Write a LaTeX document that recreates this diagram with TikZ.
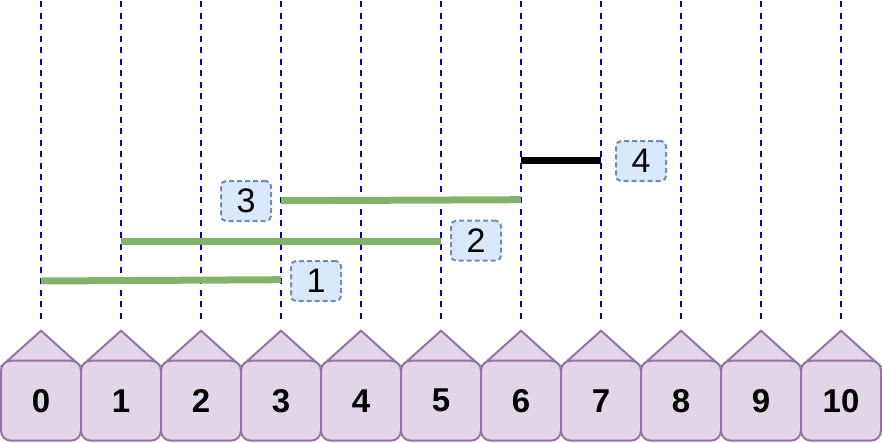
\documentclass[tikz,border=0pt]{standalone}
\usepackage{fontspec}
\setmainfont{Liberation Sans}
\definecolor{guideblue}{HTML}{0000CC}
\definecolor{seggreen}{HTML}{82B366}
\definecolor{tagfill}{HTML}{DAE8FC}
\definecolor{tagstroke}{HTML}{6C8EBF}
\definecolor{slotfill}{HTML}{E1D5E7}
\definecolor{slotstroke}{HTML}{9673A6}
\begin{document}
\begin{tikzpicture}[x=1pt,y=-1pt,
  guide/.style={draw=guideblue, line width=2pt, dash pattern=on 6pt off 5.55pt},
  seg/.style={draw=seggreen, line width=7pt},
  blackseg/.style={draw=black, line width=7pt},
  tag/.style={draw=tagstroke, fill=tagfill, line width=2pt, dash pattern=on 5pt off 3pt,
    rounded corners=5pt, minimum width=50pt, minimum height=40pt, inner sep=0pt,
    font=\fontsize{34}{34}\selectfont},
  slot/.style={draw=slotstroke, fill=slotfill, line width=2pt, rounded corners=10pt,
    minimum width=80pt, minimum height=80pt, inner sep=0pt,
    font=\fontsize{33}{33}\selectfont\bfseries},
  roof/.style={draw=slotstroke, fill=slotfill, line width=2pt, line join=miter}]
\useasboundingbox (0,0) rectangle (882,442);
% guides
\foreach \i in {0,...,10}{
  \pgfmathsetmacro\cx{41+80*\i}
  \coordinate (gt\i) at (\cx,1);
  \coordinate (gb\i) at (\cx,318.5);
  \draw[guide] (gt\i) -- (gb\i);
}
% slots
\foreach \i in {0,...,10}{
  \pgfmathsetmacro\cx{41+80*\i}
  \coordinate (rl\i) at (\cx-39.3,366);
  \coordinate (rt\i) at (\cx,330.7);
  \coordinate (rr\i) at (\cx+39.3,366);
  \draw[roof] (rl\i) -- (rt\i) -- (rr\i) -- cycle;
  \node[slot] (h\i) at (\cx,400.7) {\i};
}
% segments
\coordinate (s1a) at (41,281);   \coordinate (s1b) at (281,279.7);
\coordinate (s2a) at (121,241);  \coordinate (s2b) at (441,241);
\coordinate (s3a) at (281,200.7);\coordinate (s3b) at (521,199.7);
\coordinate (s4a) at (521,160);  \coordinate (s4b) at (601,160);
\draw[seg] (s1a) -- (s1b);
\draw[seg] (s2a) -- (s2b);
\draw[seg] (s3a) -- (s3b);
\draw[blackseg] (s4a) -- (s4b);
% tags
\node[tag] (t1) at (316,281) {1};
\node[tag] (t2) at (476,240.7) {2};
\node[tag] (t3) at (246,201) {3};
\node[tag] (t4) at (641,161) {4};
\end{tikzpicture}
\end{document}
